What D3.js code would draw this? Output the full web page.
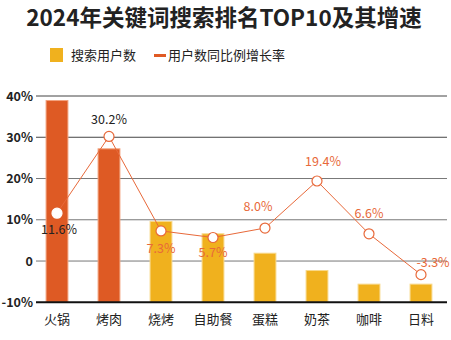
<!DOCTYPE html>
<html><head><meta charset="utf-8">
<script src="https://cdn.jsdelivr.net/npm/d3@7"></script>
<style>body{margin:0;background:#fff}svg{display:block}text{font-family:"Noto Sans CJK SC","Noto Sans",sans-serif}</style>
</head><body><svg id="c" width="451" height="340"></svg>
<script>
const categories = ["火锅","烤肉","烧烤","自助餐","蛋糕","奶茶","咖啡","日料"];
const searchUsers = [38.9, 27.2, 9.6, 6.6, 1.9, -2.3, -5.6, -5.6];
const growthRate = [11.6, 30.2, 7.3, 5.7, 8.0, 19.4, 6.6, -3.3];
const yTicks = [40, 30, 20, 10, 0, -10];
const yTickLabels = ["40%","30%","20%","10%","0","-10%"];

const svg = d3.select("#c");
const x = d3.scaleBand().domain(categories).range([31, 447]).paddingInner(0.58).paddingOuter(0.29);
const y = d3.scaleLinear().domain([-10, 40]).range([302.3, 96]);

svg.append("text").attr("x", 224).attr("y", 26).attr("text-anchor","middle")
  .attr("font-size", 22.5).attr("font-weight", "bold").attr("fill", "#222")
  .text("2024年关键词搜索排名TOP10及其增速");

// legend
svg.append("rect").attr("x",50).attr("y",48).attr("width",13).attr("height",14).attr("fill","#F0B11E");
svg.append("text").attr("x",71).attr("y",60).attr("font-size",13).attr("fill","#222").text("搜索用户数");
svg.append("rect").attr("x",154).attr("y",54).attr("width",12).attr("height",3).attr("fill","#E05A24");
svg.append("text").attr("x",168).attr("y",60).attr("font-size",13).attr("fill","#222").text("用户数同比例增长率");

// gridlines
svg.append("g").selectAll("line").data(yTicks.filter(d=>d>-10)).join("line")
  .attr("x1",36).attr("x2",447).attr("y1",d=>y(d)).attr("y2",d=>y(d))
  .attr("stroke",(d)=>d>=30?"#444":"#777").attr("stroke-width",1);

// y axis labels
const yAxis = d3.axisLeft(y).tickValues(yTicks).tickFormat((d,i)=>yTickLabels[i]).tickSize(0).tickPadding(0);
const ya = svg.append("g").attr("transform","translate(33,0)").call(yAxis);
ya.select(".domain").remove();
ya.selectAll("text").attr("font-size",12.5).attr("font-weight","bold").attr("fill","#222")
  .style("font-family",'"Noto Sans CJK SC","Noto Sans",sans-serif');

// bars
svg.append("g").selectAll("rect").data(categories).join("rect")
  .attr("x", d=>x(d)).attr("width", x.bandwidth())
  .attr("y", (d,i)=>y(searchUsers[i])).attr("height",(d,i)=>y(-10)-y(searchUsers[i]))
  .attr("fill",(d,i)=>i<2?"#DE5A24":"#F0B11E")
  .attr("stroke",(d,i)=>i<2?"#F2A27E":"#F8D98A").attr("stroke-width",1);

// baseline
svg.append("line").attr("x1",36).attr("x2",447).attr("y1",y(-10)).attr("y2",y(-10))
  .attr("stroke","#111").attr("stroke-width",2);

// x labels
const xAxis = d3.axisBottom(x).tickSize(0).tickPadding(0);
const xa = svg.append("g").attr("transform","translate(0,315)").call(xAxis);
xa.select(".domain").remove();
xa.selectAll("text").attr("font-size",13).attr("fill","#222")
  .style("font-family",'"Noto Sans CJK SC","Noto Sans",sans-serif');

// line
const cx = d=>x(d)+x.bandwidth()/2;
const line = d3.line().x((d,i)=>cx(categories[i])).y(d=>y(d));
svg.append("path").datum(growthRate).attr("d",line).attr("fill","none")
  .attr("stroke","#E8693A").attr("stroke-width",1);
svg.append("g").selectAll("circle").data(growthRate).join("circle")
  .attr("cx",(d,i)=>cx(categories[i])).attr("cy",d=>y(d)).attr("r",5)
  .attr("fill","#fff").attr("stroke",(d,i)=>i===0?"#fff":"#E8693A").attr("stroke-width",1.2);

// labels
const off = [[2,21],[0,-12],[0,22],[0,19],[-7,-17],[6,-15],[0,-16],[12,-8]];
svg.append("g").selectAll("text").data(growthRate).join("text")
  .attr("x",(d,i)=>cx(categories[i])+off[i][0]).attr("y",(d,i)=>y(d)+off[i][1])
  .attr("text-anchor","middle").attr("font-size",12.5)
  .attr("fill",(d,i)=>i<2?"#222":"#E8693A")
  .text(d=>d.toFixed(1)+"%");
</script></body></html>
